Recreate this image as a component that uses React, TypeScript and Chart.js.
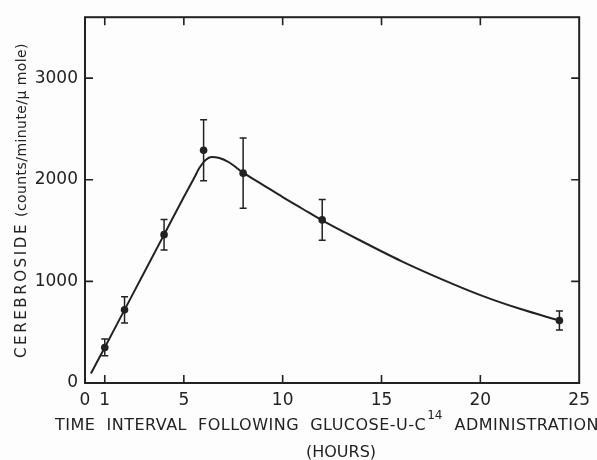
import React, { useEffect, useRef } from "react";
import { Chart, registerables } from "chart.js";

Chart.register(...registerables);

// Measured cerebroside activity (mean ± error) at each sampling time
const hours = [1, 2, 4, 6, 8, 12, 24];
const cerebroside = [350, 720, 1460, 2290, 2065, 1605, 615];
const errorBar = [83, 130, 150, 300, 345, 200, 93];

// Hand-drawn smooth curve through the data
const curveHours = [0.3, 1, 2, 3, 4, 5, 5.5, 5.8, 6.1, 6.4, 6.8, 7.3, 8, 9, 10, 11, 12, 14, 16, 18, 20, 22, 24];
const curveValues = [94, 350, 720, 1090, 1460, 1830, 2010, 2120, 2195, 2225, 2215, 2170, 2070, 1950, 1830, 1715, 1600, 1395, 1200, 1025, 865, 730, 615];

const xTicks = [0, 1, 5, 10, 15, 20, 25];
const yTicks = [0, 1000, 2000, 3000];
const xMarks = [1, 5, 10, 15, 20];
const yMarks = [1000, 2000, 3000];

const INK = "#222222";
const FONT = "DejaVu Sans";

function fitText(ctx: CanvasRenderingContext2D, text: string, target: number) {
  (ctx as any).letterSpacing = "0px";
  const w = ctx.measureText(text).width;
  const n = Array.from(text).length;
  return (target - w) / n;
}

const decor = {
  id: "decor",
  beforeDraw(chart: any) {
    const { ctx, width, height } = chart;
    ctx.save();
    ctx.fillStyle = "#fdfdfd";
    ctx.fillRect(0, 0, width, height);
    ctx.restore();
  },
  beforeDatasetsDraw(chart: any) {
    const { ctx, scales } = chart;
    const x = scales.x;
    const y = scales.y;
    ctx.save();
    ctx.strokeStyle = INK;
    ctx.lineWidth = 1.5;
    hours.forEach((h, i) => {
      const px = x.getPixelForValue(h);
      const top = y.getPixelForValue(cerebroside[i] + errorBar[i]);
      const bot = y.getPixelForValue(cerebroside[i] - errorBar[i]);
      ctx.beginPath();
      ctx.moveTo(px, top);
      ctx.lineTo(px, bot);
      ctx.moveTo(px - 3.5, top);
      ctx.lineTo(px + 3.5, top);
      ctx.moveTo(px - 3.5, bot);
      ctx.lineTo(px + 3.5, bot);
      ctx.stroke();
    });
    ctx.restore();
  },
  afterDraw(chart: any) {
    const { ctx, chartArea: a, scales } = chart;
    const x = scales.x;
    const y = scales.y;
    ctx.save();
    ctx.strokeStyle = INK;
    ctx.lineWidth = 2;
    ctx.strokeRect(a.left, a.top, a.right - a.left, a.bottom - a.top);

    // inward tick marks on all four sides
    ctx.lineWidth = 1.6;
    const tl = 8;
    ctx.beginPath();
    xMarks.forEach((v) => {
      const px = x.getPixelForValue(v);
      ctx.moveTo(px, a.bottom);
      ctx.lineTo(px, a.bottom - tl);
      ctx.moveTo(px, a.top);
      ctx.lineTo(px, a.top + tl);
    });
    yMarks.forEach((v) => {
      const py = y.getPixelForValue(v);
      ctx.moveTo(a.left, py);
      ctx.lineTo(a.left + tl, py);
      ctx.moveTo(a.right, py);
      ctx.lineTo(a.right - tl, py);
    });
    ctx.stroke();

    // x-axis title
    ctx.fillStyle = INK;
    ctx.textBaseline = "alphabetic";
    ctx.textAlign = "left";
    const partA = "TIME  INTERVAL  FOLLOWING  GLUCOSE-U-C";
    const partB = "  ADMINISTRATION";
    const sup = "14";
    ctx.font = `12px ${FONT}`;
    const supW = ctx.measureText(sup).width + 2;
    ctx.font = `16px ${FONT}`;
    (ctx as any).letterSpacing = "0px";
    const wA = ctx.measureText(partA).width;
    const wB = ctx.measureText(partB).width;
    const nA = Array.from(partA).length;
    const nB = Array.from(partB).length;
    const left = 55;
    const right = 599;
    const sp = (right - left - supW - wA - wB) / (nA + nB);
    (ctx as any).letterSpacing = `${sp}px`;
    const baseY = 430;
    ctx.fillText(partA, left, baseY);
    const afterA = left + wA + nA * sp;
    ctx.font = `12px ${FONT}`;
    (ctx as any).letterSpacing = "0px";
    ctx.fillText(sup, afterA + 1, baseY - 11);
    ctx.font = `16px ${FONT}`;
    (ctx as any).letterSpacing = `${sp}px`;
    ctx.fillText(partB, afterA + supW, baseY);

    const hoursLabel = "(HOURS)";
    const spH = fitText(ctx, hoursLabel, 70);
    (ctx as any).letterSpacing = `${spH}px`;
    ctx.fillText(hoursLabel, 306, 457);

    // y-axis title, rotated
    ctx.translate(26, 358);
    ctx.rotate(-Math.PI / 2);
    ctx.font = `15px ${FONT}`;
    const yA = "CEREBROSIDE";
    const spA = fitText(ctx, yA, 136);
    (ctx as any).letterSpacing = `${spA}px`;
    ctx.fillText(yA, 0, 0);
    ctx.font = `14px ${FONT}`;
    const yB = "(counts/minute/\u03bc mole)";
    const spB = fitText(ctx, yB, 174);
    (ctx as any).letterSpacing = `${spB}px`;
    ctx.fillText(yB, 141, 0);
    ctx.restore();
  },
};

export default function App() {
  const ref = useRef<HTMLCanvasElement | null>(null);

  useEffect(() => {
    document.body.style.margin = "0";
    const canvas = ref.current;
    if (!canvas) return;
    const chart = new Chart(canvas, {
      type: "scatter",
      data: {
        datasets: [
          {
            type: "line",
            data: curveHours.map((h, i) => ({ x: h, y: curveValues[i] })),
            borderColor: INK,
            borderWidth: 2,
            pointRadius: 0,
            cubicInterpolationMode: "monotone",
            fill: false,
          } as any,
          {
            data: hours.map((h, i) => ({ x: h, y: cerebroside[i] })),
            backgroundColor: INK,
            borderColor: INK,
            pointRadius: 3.8,
            borderWidth: 0,
          },
        ],
      },
      options: {
        animation: false,
        responsive: false,
        devicePixelRatio: 1,
        layout: { padding: { top: 13, right: 15, left: 0, bottom: 0 } },
        plugins: { legend: { display: false }, tooltip: { enabled: false } },
        scales: {
          x: {
            type: "linear",
            min: 0,
            max: 25,
            grid: { display: false, drawTicks: false },
            border: { display: false },
            afterBuildTicks: (s: any) => {
              s.ticks = xTicks.map((v) => ({ value: v }));
            },
            afterFit: (s: any) => {
              s.height = 77;
            },
            ticks: {
              autoSkip: false,
              maxRotation: 0,
              padding: 7,
              color: INK,
              font: { family: FONT, size: 17 },
              callback: (v: any) => String(v),
            },
          },
          y: {
            type: "linear",
            min: 0,
            max: 3600,
            grid: { display: false, drawTicks: false },
            border: { display: false },
            afterBuildTicks: (s: any) => {
              s.ticks = yTicks.map((v) => ({ value: v }));
            },
            afterFit: (s: any) => {
              s.width = 85;
            },
            ticks: {
              padding: 7,
              color: INK,
              font: { family: FONT, size: 17 },
              callback: (v: any) => String(v),
            },
          },
        },
      },
      plugins: [decor],
    });
    return () => chart.destroy();
  }, []);

  return (
    <div style={{ width: 597, height: 460 }}>
      <canvas ref={ref} width={597} height={460} style={{ display: "block" }} />
    </div>
  );
}
